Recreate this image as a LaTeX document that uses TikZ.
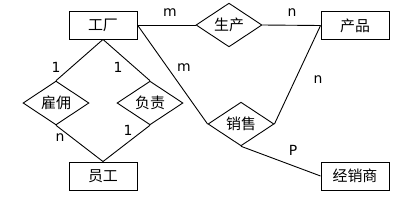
\documentclass[tikz,border=0pt]{standalone}
\usepackage{fontspec}
\setmainfont{DejaVu Sans}
\newfontfamily\cjk{Noto Sans CJK SC}
\usetikzlibrary{shapes.geometric}
\begin{document}
\begin{tikzpicture}[x=1bp,y=-1bp,
  ent/.style={draw,line width=0.9pt,minimum width=68bp,minimum height=28bp,inner sep=0pt,font=\cjk\fontsize{15}{15}\selectfont},
  rel/.style={draw,diamond,line width=0.9pt,minimum width=66bp,minimum height=40bp,inner sep=0pt,font=\cjk\fontsize{15}{15}\selectfont},
  lab/.style={font=\fontsize{14}{14}\selectfont,inner sep=0pt},
  conn/.style={line width=0.9pt}]
\useasboundingbox[fill=white] (0,0) rectangle (414,213);
\node[ent] (gc) at (103,25) {工厂};
\node[ent] (cp) at (355,25.5) {产品};
\node[ent] (yg) at (103,176) {员工};
\node[ent] (jxs) at (355,176) {经销商};
\node[rel] (sc) at (229,25) {生产};
\node[rel] (gy) at (56,103) {雇佣};
\node[rel] (fz) at (150,103) {负责};
\node[rel] (xs) at (241,124) {销售};
\draw[conn] (gc.east) -- (sc.west);
\draw[conn] (sc.east) -- (cp.west);
\draw[conn] (gc.east) -- (xs.west);
\draw[conn] (cp.west) -- (xs.east);
\draw[conn] (xs.south) -- (jxs.west);
\draw[conn] (gc.south) -- (gy.north);
\draw[conn] (gc.south) -- (fz.north);
\draw[conn] (gy.south) -- (yg.north);
\draw[conn] (fz.south) -- (yg.north);
\node[lab] (l1) at (170,13) {m};
\node[lab] (l2) at (292,13) {n};
\node[lab] (l3) at (184,68) {m};
\node[lab] (l4) at (318,80) {n};
\node[lab] (l5) at (293,150) {P};
\node[lab] (l6) at (56,67) {1};
\node[lab] (l7) at (118,67) {1};
\node[lab] (l8) at (60,138) {n};
\node[lab] (l9) at (128,130) {1};
\end{tikzpicture}
\end{document}
